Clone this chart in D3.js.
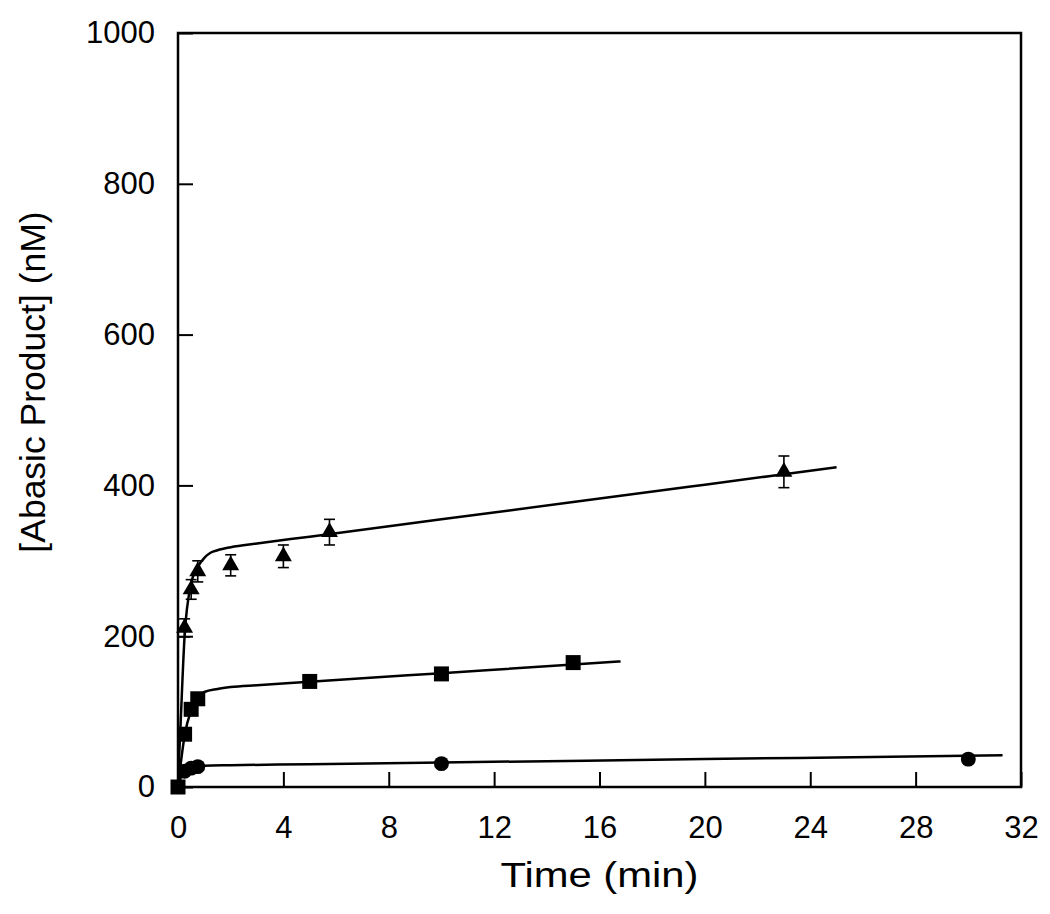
<!DOCTYPE html>
<html>
<head>
<meta charset="utf-8">
<script src="https://cdn.jsdelivr.net/npm/d3@7"></script>
<style>
  html, body { margin: 0; padding: 0; background: #fff; }
  svg { display: block; font-family: "Liberation Sans", Arial, sans-serif; }
</style>
</head>
<body>
<svg id="chart" width="1050" height="914"></svg>
<script>
// ---- Data ----
const xTicks = [0, 4, 8, 12, 16, 20, 24, 28, 32];
const yTicks = [0, 200, 400, 600, 800, 1000];

// Triangles (with error bars)
const triTime  = [0.25, 0.5, 0.75, 2, 4, 5.75, 23];
const triValue = [211, 262, 286, 294, 306, 338, 418];
const triErr   = [12, 13, 14, 14, 15, 17, 21];

// Squares
const sqTime  = [0, 0.25, 0.5, 0.75, 5, 10, 15];
const sqValue = [0, 70, 103, 117, 140, 150, 165];

// Circles
const ciTime  = [0.25, 0.5, 0.75, 10, 30];
const ciValue = [21, 25, 27, 31, 37];

// Fitted curves
const triFitTime  = [0, 0.05, 0.1, 0.25, 0.5, 0.75, 1, 1.25, 1.5, 2, 3, 5, 10, 15, 20, 25];
const triFitValue = [0, 45, 85, 200, 270, 292, 304, 311, 314, 318, 323, 332, 355, 378, 401, 424];
const sqFitTime   = [0, 0.1, 0.25, 0.5, 0.75, 1, 1.5, 2, 3, 5, 10, 15, 16.8];
const sqFitValue  = [0, 30, 68, 102, 118, 126, 130, 132.5, 135, 139.5, 151, 162.5, 166.6];
const ciFitTime   = [0, 0.1, 0.25, 0.5, 0.75, 1, 2, 5, 10, 20, 31.3];
const ciFitValue  = [0, 12, 21, 26, 27.5, 28.2, 28.9, 30.3, 32.5, 37, 42.1];

// ---- Layout ----
const svg = d3.select("#chart");
const L = 178, R = 1021, T = 33, B = 787;

const x = d3.scaleLinear().domain([0, 32]).range([L, R]);
const y = d3.scaleLinear().domain([0, 1000]).range([B, T]);

// Axes (ticks pointing inward)
const gx = svg.append("g").attr("transform", `translate(0,${B})`)
  .call(d3.axisBottom(x).tickValues(xTicks).tickSize(-15).tickPadding(29).tickFormat(d3.format("d")));
const gy = svg.append("g").attr("transform", `translate(${L},0)`)
  .call(d3.axisLeft(y).tickValues(yTicks).tickSize(-15).tickPadding(23).tickFormat(d3.format("d")));

[gx, gy].forEach(g => {
  g.select(".domain").remove();
  g.selectAll(".tick line").attr("stroke", "#000").attr("stroke-width", 2);
  g.selectAll(".tick text").attr("fill", "#000").style("font-size", "31px")
    .style("font-family", "'Liberation Sans', Arial, sans-serif");
});

// Frame
svg.append("rect")
  .attr("x", L).attr("y", T).attr("width", R - L).attr("height", B - T)
  .attr("fill", "none").attr("stroke", "#000").attr("stroke-width", 2.5);

// Axis titles
svg.append("text")
  .attr("x", (L + R) / 2).attr("y", 887)
  .attr("text-anchor", "middle")
  .attr("textLength", 198).attr("lengthAdjust", "spacingAndGlyphs")
  .style("font-size", "35px").attr("fill", "#000")
  .text("Time (min)");

svg.append("text")
  .attr("transform", "translate(45,382) rotate(-90)")
  .attr("text-anchor", "middle")
  .style("font-size", "35.5px").attr("fill", "#000")
  .text("[Abasic Product] (nM)");

// Fit curves
const line = d3.line().x(d => x(d[0])).y(d => y(d[1])).curve(d3.curveMonotoneX);
const fits = [
  d3.zip(ciFitTime, ciFitValue),
  d3.zip(sqFitTime, sqFitValue),
  d3.zip(triFitTime, triFitValue)
];
svg.append("g").selectAll("path").data(fits).join("path")
  .attr("d", line).attr("fill", "none")
  .attr("stroke", "#000").attr("stroke-width", 2.5);

// Error bars for triangles
const tri = triTime.map((t, i) => ({ t, v: triValue[i], e: triErr[i] }));
const eb = svg.append("g").attr("stroke", "#000").attr("stroke-width", 1.6);
tri.forEach(d => {
  const cx = x(d.t), hw = 5.5;
  eb.append("line").attr("x1", cx).attr("x2", cx).attr("y1", y(d.v + d.e)).attr("y2", y(d.v - d.e));
  eb.append("line").attr("x1", cx - hw).attr("x2", cx + hw).attr("y1", y(d.v + d.e)).attr("y2", y(d.v + d.e));
  eb.append("line").attr("x1", cx - hw).attr("x2", cx + hw).attr("y1", y(d.v - d.e)).attr("y2", y(d.v - d.e));
});

// Markers
svg.append("g").selectAll("path").data(tri).join("path")
  .attr("transform", d => `translate(${x(d.t)},${y(d.v)})`)
  .attr("d", d3.symbol(d3.symbolTriangle, 125)).attr("fill", "#000");

svg.append("g").selectAll("path").data(d3.zip(ciTime, ciValue)).join("path")
  .attr("transform", d => `translate(${x(d[0])},${y(d[1])})`)
  .attr("d", d3.symbol(d3.symbolCircle, 175)).attr("fill", "#000");

svg.append("g").selectAll("path").data(d3.zip(sqTime, sqValue)).join("path")
  .attr("transform", d => `translate(${x(d[0])},${y(d[1])})`)
  .attr("d", d3.symbol(d3.symbolSquare, 225)).attr("fill", "#000");
</script>
</body>
</html>
